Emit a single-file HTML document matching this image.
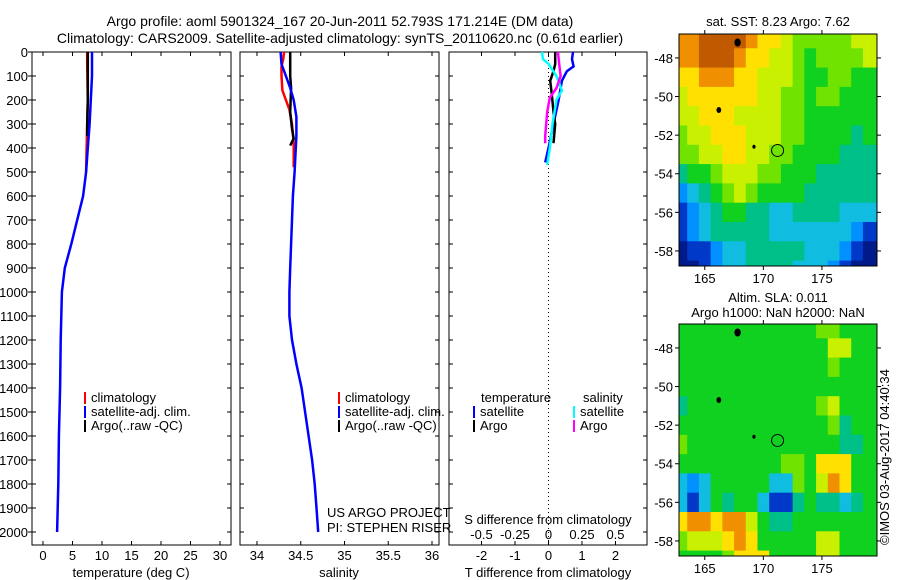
<!DOCTYPE html>
<html><head><meta charset="utf-8">
<style>
html,body{margin:0;padding:0;background:#fff;}
svg{display:block;font-family:"Liberation Sans",sans-serif;}
text{fill:#000;font-size:13px;}
</style></head>
<body>
<svg id="fig" width="900" height="580" viewBox="0 0 900 580">
<text x="340" y="26" text-anchor="middle" font-size="14" style="font-size:14px">Argo profile: aoml 5901324_167 20-Jun-2011 52.793S 171.214E (DM data)</text>
<text x="340" y="43" text-anchor="middle" style="font-size:14px">Climatology: CARS2009. Satellite-adjusted climatology: synTS_20110620.nc (0.61d earlier)</text>
<text x="778" y="26" text-anchor="middle">sat. SST: 8.23 Argo: 7.62</text>
<text x="778" y="302" text-anchor="middle">Altim. SLA: 0.011</text>
<text x="778" y="317" text-anchor="middle">Argo h1000: NaN h2000: NaN</text>
<text transform="translate(889,545) rotate(-90)">©IMOS 03-Aug-2017 04:40:34</text>
</svg>
<script>
// ---------- data ----------
const depthTicks=[0,100,200,300,400,500,600,700,800,900,1000,1100,1200,1300,1400,1500,1600,1700,1800,1900,2000];
const tempTicks=[0,5,10,15,20,25,30];
const salTicks=[34,34.5,35,35.5,36];
const tdiffTicks=[-2,-1,0,1,2];
const sdiffTicks=[-0.5,-0.25,0,0.25,0.5];
const tSatDepth=[0,100,200,300,400,500,600,700,800,900,1000,1200,1400,1500,1600,1800,1900,2000];
const tSatVal=[8.3,8.3,8.1,7.9,7.6,7.3,6.8,5.8,4.8,3.7,3.2,3.0,2.9,2.8,2.7,2.6,2.5,2.4];
const tClimDepth=[0,50,200,300,400,500];
const tClimVal=[7.5,7.5,7.6,7.5,7.4,7.3];
const tArgoDepth=[0,100,200,300,350];
const tArgoVal=[7.6,7.6,7.6,7.5,7.5];
const sSatDepth=[0,50,100,150,200,270,350,500,600,700,800,900,1000,1100,1200,1300,1400,1500,1600,1700,1800,1900,2000];
const sSatVal=[34.27,34.28,34.33,34.38,34.42,34.45,34.45,34.43,34.41,34.40,34.39,34.38,34.37,34.37,34.40,34.45,34.51,34.55,34.59,34.63,34.66,34.68,34.70];
const sClimDepth=[0,30,60,100,160,200,240,300,380,480];
const sClimVal=[34.31,34.30,34.28,34.28,34.29,34.33,34.37,34.40,34.42,34.42];
const sArgoDepth=[0,100,150,250,320,360,390];
const sArgoVal=[34.38,34.38,34.39,34.38,34.40,34.42,34.38];
const dTSatDepth=[0,30,60,80,120,200,300,400,460];
const dTSatVal=[0.73,0.70,0.75,0.55,0.40,0.30,0.15,0.0,-0.1];
const dTArgoDepth=[0,50,80,120,180,250,300,380];
const dTArgoVal=[0.20,0.20,0.15,0.05,0.10,0.15,0.20,0.15];
const dSSatDepth=[0,30,50,100,160,200,300,400,470];
const dSSatVal=[-0.05,-0.04,0.0,0.06,0.10,0.06,0.03,0.01,-0.01];
const dSArgoDepth=[0,50,100,150,190,250,350,380];
const dSArgoVal=[0.07,0.08,0.09,0.06,0.01,-0.01,-0.025,-0.025];
const mapLons=[163,164,165,166,167,168,169,170,171,172,173,174,175,176,177,178,179,180];
const mapLats=[-47,-48,-49,-50,-51,-52,-53,-54,-55,-56,-57,-58,-59];
const sstGrid=[
[9,9,10,10,10,10,9,8,8,7,6,6,6,6,6,7,7,7],
[9,9,10,10,10,9,8,8,7,7,6,5,6,6,6,6,7,7],
[8,8,9,9,9,8,8,7,7,7,6,5,5,6,6,5,5,5],
[7,8,8,8,8,8,8,7,7,6,6,5,6,6,5,5,5,5],
[7,7,8,8,8,7,7,7,7,6,6,5,5,5,5,5,5,5],
[6,7,7,8,8,8,7,7,7,6,6,5,5,5,5,4,5,5],
[6,6,7,7,8,8,7,7,6,6,5,5,5,5,4,4,4,4],
[4,5,5,6,7,7,7,6,6,5,5,5,4,4,4,4,4,4],
[2,3,4,5,6,7,6,5,5,5,5,4,4,4,4,4,4,4],
[1,2,3,4,5,5,4,4,3,3,4,4,4,4,3,3,3,3],
[1,2,3,4,4,4,4,4,3,3,3,3,3,3,3,2,1,1],
[0,1,1,2,3,3,4,4,4,4,4,3,3,3,2,1,0,0],
[0,0,1,2,3,3,4,4,4,4,3,3,3,2,1,0,0,0]];
const slaGrid=[
[5,5,5,5,5,5,5,5,5,5,5,5,6,6,5,5,5,5],
[5,5,5,5,5,5,5,5,5,5,5,5,5,7,7,5,5,5],
[5,5,5,5,5,5,5,5,5,5,5,5,5,6,5,5,5,5],
[5,5,5,5,5,5,5,5,5,5,5,5,5,5,5,5,5,5],
[4,5,5,5,5,5,5,5,5,5,5,5,6,7,5,5,5,5],
[5,5,5,5,5,5,5,5,5,5,5,5,5,6,4,5,5,5],
[6,5,5,5,5,5,5,5,5,5,5,5,5,5,4,4,5,5],
[5,5,5,5,5,5,5,5,5,6,6,5,8,8,8,5,5,5],
[3,2,3,5,5,5,5,5,3,3,6,5,7,9,8,5,5,5],
[3,1,3,5,4,5,5,3,1,1,4,5,4,4,3,4,5,5],
[8,9,9,8,9,9,7,5,4,4,5,5,5,5,5,5,5,5],
[6,7,7,7,8,9,8,5,5,5,5,5,7,7,5,5,5,5],
[5,5,5,5,6,8,8,8,5,5,5,5,7,7,5,5,5,5]];
const palette=['#001a8a','#0038c8','#0090ff','#10bce0','#00c08a','#10d020','#70e400','#c8f000','#ffe000','#f09000','#c05a00'];

// ---------- helpers ----------
const svg=document.getElementById('fig');
const NS='http://www.w3.org/2000/svg';
function mk(tag,attrs,parent){const e=document.createElementNS(NS,tag);for(const k in attrs)e.setAttribute(k,attrs[k]);(parent||svg).appendChild(e);return e;}
function txt(x,y,s,anchor,parent){const t=mk('text',{x:x,y:y,'text-anchor':anchor||'middle'},parent);t.textContent=s;return t;}

const Y0=52,Y1=545;
function yD(d){return Y0+d*0.24;}
const panels=[
 {name:'temperature-panel',x0:32,x1:231,v0:-1.86,v1:31.86},
 {name:'salinity-panel',x0:240,x1:439,v0:33.806,v1:36.08},
 {name:'difference-panel',x0:449,x1:647,v0:-2.97,v1:2.94}
];
function xf(p){return v=>p.x0+(v-p.v0)/(p.v1-p.v0)*(p.x1-p.x0);}

panels.forEach((p,i)=>{
  const g=mk('g',{});
  
  
  const r=mk('rect',{x:p.x0,y:Y0,width:p.x1-p.x0,height:Y1-Y0,fill:'none',stroke:'#000','stroke-width':1},g);
  
  
  depthTicks.forEach(d=>{
    mk('line',{x1:p.x0,x2:p.x0+4,y1:yD(d),y2:yD(d),stroke:'#000'},g);
    mk('line',{x1:p.x1-4,x2:p.x1,y1:yD(d),y2:yD(d),stroke:'#000'},g);
  });
});
const yl=mk('g',{});


depthTicks.forEach(d=>{txt(28,yD(d)+5,String(d),'end',yl);mk('line',{x1:28,x2:32,y1:yD(d),y2:yD(d),stroke:'#000'},yl);});

function xTicks(p,ticks,ly){
  const X=xf(p);const g=mk('g',{});
  
  
  ticks.forEach(v=>{const x=X(v);
    mk('line',{x1:x,x2:x,y1:Y1-4,y2:Y1,stroke:'#000'},g);
    mk('line',{x1:x,x2:x,y1:Y0,y2:Y0+4,stroke:'#000'},g);
    txt(x,ly,String(v),'middle',g);});
}
xTicks(panels[0],tempTicks,560);
xTicks(panels[1],salTicks,560);
xTicks(panels[2],tdiffTicks,560);
const Xd=xf(panels[2]);
const sg=mk('g',{});


sdiffTicks.forEach(v=>txt(Xd(v*4),539,String(v),'middle',sg));
let t;
t=txt(548,524,'S difference from climatology');
t=txt(131,577,'temperature (deg C)');
t=txt(339,577,'salinity');
t=txt(548,577,'T difference from climatology');
t=txt(327,517,'US ARGO PROJECT','start');
t=txt(327,532,'PI: STEPHEN RISER','start');
const zl=mk('line',{x1:Xd(0),x2:Xd(0),y1:Y0,y2:Y1,stroke:'#000','stroke-dasharray':'1,3'});



function series(p,depths,vals,color,name,scale){
  const X=xf(p);const s=scale||1;
  const pts=depths.map((d,i)=>X(vals[i]*s).toFixed(1)+','+yD(d).toFixed(1)).join(' ');
  const l=mk('polyline',{points:pts,fill:'none',stroke:color,'stroke-width':2.5});
  
  
}
series(panels[0],tClimDepth,tClimVal,'#f00','temp-climatology-line');
series(panels[0],tArgoDepth,tArgoVal,'#000','temp-argo-line');
series(panels[0],tSatDepth,tSatVal,'#00f','temp-satellite-line');
series(panels[1],sClimDepth,sClimVal,'#f00','sal-climatology-line');
series(panels[1],sArgoDepth,sArgoVal,'#000','sal-argo-line');
series(panels[1],sSatDepth,sSatVal,'#00f','sal-satellite-line');
series(panels[2],dTSatDepth,dTSatVal,'#00f','tdiff-satellite-line');
series(panels[2],dTArgoDepth,dTArgoVal,'#000','tdiff-argo-line');
series(panels[2],dSSatDepth,dSSatVal,'#0ff','sdiff-satellite-line',4);
series(panels[2],dSArgoDepth,dSArgoVal,'#f0f','sdiff-argo-line',4);

function legend(x,y,items,name){
  const g=mk('g',{});
  
  
  items.forEach((it,i)=>{
    mk('rect',{x:x,y:y+i*14-10,width:2,height:12,fill:it[0]},g);
    txt(x+7,y+i*14,it[1],'start',g);
  });
}
legend(84,402,[['#f00','climatology'],['#00f','satellite-adj. clim.'],['#000','Argo(..raw -QC)']],'temperature-legend');
legend(338,402,[['#f00','climatology'],['#00f','satellite-adj. clim.'],['#000','Argo(..raw -QC)']],'salinity-legend');
t=txt(481,402,'temperature','start');
t=txt(583,402,'salinity','start');
legend(473,416,[['#00f','satellite'],['#000','Argo']],'tdiff-legend');
legend(573,416,[['#0ff','satellite'],['#f0f','Argo']],'sdiff-legend');

// ---------- maps ----------
const LON0=162.8,LON1=179.7,LAT0=-46.76,LAT1=-58.78;
function drawMap(top,grid,name){
  const L=679,R=877,B=top+232;
  const lx=v=>L+(v-LON0)/(LON1-LON0)*(R-L);
  const ly=v=>top+(v-LAT0)/(LAT1-LAT0)*(B-top);
  const g=mk('g',{});
  
  
  const cid='clip'+top;
  const cp=mk('clipPath',{id:cid},g);mk('rect',{x:L,y:top,width:R-L,height:B-top},cp);
  const cg=mk('g',{'clip-path':'url(#'+cid+')'},g);
  grid.forEach((row,ri)=>row.forEach((v,ci)=>{
    const x0=lx(mapLons[ci]-0.5),x1=lx(mapLons[ci]+0.5),y0=ly(mapLats[ri]+0.5),y1=ly(mapLats[ri]-0.5);
    const c=mk('rect',{x:x0,y:y0,width:x1-x0+0.5,height:y1-y0+0.5,fill:palette[v]},cg);
    
    
  }));
  [[167.8,-47.2,4],[166.2,-50.7,3],[169.2,-52.6,2]].forEach(a=>{
    const isl=mk('ellipse',{cx:lx(a[0]),cy:ly(a[1]),rx:a[2]*0.8,ry:a[2],fill:'#000'},cg);
    
    
  });
  const ci=mk('circle',{cx:lx(171.214),cy:ly(-52.793),r:6,fill:'none',stroke:'#000','stroke-width':1});
  g.appendChild(ci);
  
  
  mk('rect',{x:L,y:top,width:R-L,height:B-top,fill:'none',stroke:'#000'},g);
  [165,170,175].forEach(v=>{mk('line',{x1:lx(v),x2:lx(v),y1:B,y2:B+4,stroke:'#000'},g);mk('line',{x1:lx(v),x2:lx(v),y1:top-4,y2:top,stroke:'#000'},g);txt(lx(v),B+17,String(v),'middle',g);});
  [-48,-50,-52,-54,-56,-58].forEach(v=>{mk('line',{x1:L-4,x2:L,y1:ly(v),y2:ly(v),stroke:'#000'},g);mk('line',{x1:R,x2:R+4,y1:ly(v),y2:ly(v),stroke:'#000'},g);txt(L-6,ly(v)+5,String(v),'end',g);});
}
drawMap(34,sstGrid,'sst-map');
drawMap(324,slaGrid,'sla-map');
</script>
</body></html>
